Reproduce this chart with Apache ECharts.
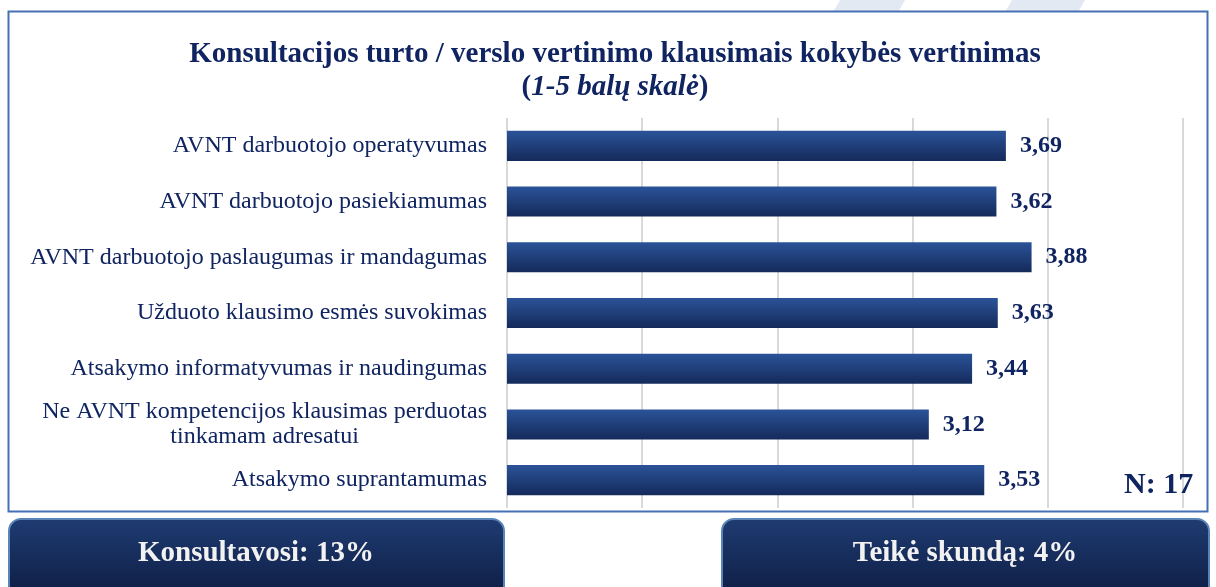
<!DOCTYPE html>
<html>
<head>
<meta charset="utf-8">
<script src="https://cdn.jsdelivr.net/npm/echarts@6/dist/echarts.min.js"></script>
<style>
  html, body { margin: 0; padding: 0; background: #fff; }
  #chart { width: 1216px; height: 587px; }
</style>
</head>
<body>
<div id="chart"></div>
<script>
// data
const categories = [
  'AVNT darbuotojo operatyvumas',
  'AVNT darbuotojo pasiekiamumas',
  'AVNT darbuotojo paslaugumas ir mandagumas',
  'Užduoto klausimo esmės suvokimas',
  'Atsakymo informatyvumas ir naudingumas',
  'Ne AVNT kompetencijos klausimas perduotas\ntinkamam adresatui',
  'Atsakymo suprantamumas'
]
const scores = [3.69, 3.62, 3.88, 3.63, 3.44, 3.12, 3.53]
const axisTicks = [0, 1, 2, 3, 4, 5]
const sampleText = 'N: 17'
const statLabels = ['Konsultavosi: 13%', 'Teikė skundą: 4%']

const navy = '#0f2460'
const serif = '"Liberation Serif", "Times New Roman", serif'

const myChart = echarts.init(document.getElementById('chart'))

const buttonFill = new echarts.graphic.LinearGradient(0, 0, 0, 1, [
  { offset: 0, color: '#1f3c72' },
  { offset: 1, color: '#0d1c42' }
])

const option = {
  backgroundColor: '#fff',
  textStyle: { fontFamily: serif },
  title: {
    text: 'Konsultacijos turto / verslo vertinimo klausimais kokybės vertinimas\n{b|(}{i|1-5 balų skalė}{b|)}',
    left: 610,
    textAlign: 'center',
    top: 33,
    textStyle: {
      fontFamily: serif,
      fontSize: 29,
      fontWeight: 'bold',
      color: navy,
      lineHeight: 33,
      rich: {
        b: { fontFamily: serif, fontSize: 29, fontWeight: 'bold', color: navy, lineHeight: 33 },
        i: { fontFamily: serif, fontSize: 29, fontWeight: 'bold', fontStyle: 'italic', color: navy, lineHeight: 33 }
      }
    }
  },
  grid: {
    left: 507,
    right: 33,
    top: 118,
    bottom: 79,
    containLabel: false
  },
  xAxis: {
    type: 'value',
    min: axisTicks[0],
    max: axisTicks[axisTicks.length - 1],
    interval: 1,
    axisLine: { show: false },
    axisTick: { show: false },
    axisLabel: { show: false },
    splitLine: { show: true, lineStyle: { color: '#d9d9d9', width: 2 } }
  },
  yAxis: {
    type: 'category',
    inverse: true,
    data: categories,
    axisLine: { show: false },
    axisTick: { show: false },
    axisLabel: {
      margin: 20,
      fontFamily: serif,
      fontSize: 24,
      color: navy,
      lineHeight: 25,
      formatter: function (value) {
        if (value.indexOf('\n') >= 0) {
          return value.split('\n').map(line => '{c|' + line + '}').join('\n')
        }
        return value
      },
      rich: {
        c: { fontFamily: serif, fontSize: 24, color: navy, lineHeight: 25, align: 'center' }
      }
    }
  },
  series: [
    {
      name: 'Vertinimas',
      type: 'bar',
      data: scores,
      barCategoryGap: '46%',
      itemStyle: {
        color: new echarts.graphic.LinearGradient(0, 0, 0, 1, [
          { offset: 0, color: '#2b5399' },
          { offset: 1, color: '#142a5a' }
        ])
      },
      label: {
        show: true,
        position: 'right',
        distance: 14,
        fontFamily: serif,
        fontSize: 24,
        fontWeight: 'bold',
        color: navy,
        formatter: p => p.value.toFixed(2).replace('.', ',')
      },
      silent: true
    }
  ],
  graphic: [
    // faint decorative stripes behind the frame
    {
      type: 'polygon', z: -10, silent: true,
      shape: { points: [[840, 0], [905, 0], [897, 14], [832, 14]] },
      style: { fill: '#e3e9f2' }
    },
    {
      type: 'polygon', z: -10, silent: true,
      shape: { points: [[1012, 0], [1085, 0], [1077, 14], [1004, 14]] },
      style: { fill: '#e3e9f2' }
    },
    // chart frame
    {
      type: 'rect', z: -5, silent: true,
      shape: { x: 8.5, y: 11.5, width: 1199, height: 500 },
      style: { fill: '#fff', stroke: '#4670b3', lineWidth: 2 }
    },
    {
      type: 'text', z: 10,
      left: 1124, top: 470,
      style: { text: sampleText, font: 'bold 30px ' + serif, fill: navy }
    },
    // bottom stat boxes
    {
      type: 'group', left: 8, top: 518,
      children: [
        {
          type: 'rect',
          shape: { x: 0, y: 0, width: 495, height: 80, r: 12 },
          style: { fill: buttonFill, stroke: '#5a84b8', lineWidth: 2 }
        },
        {
          type: 'text',
          x: 247, y: 35,
          style: { text: statLabels[0], font: 'bold 29px ' + serif, fill: '#f2f2f2', align: 'center', verticalAlign: 'middle' }
        }
      ]
    },
    {
      type: 'group', left: 721, top: 518,
      children: [
        {
          type: 'rect',
          shape: { x: 0, y: 0, width: 487, height: 80, r: 12 },
          style: { fill: buttonFill, stroke: '#5a84b8', lineWidth: 2 }
        },
        {
          type: 'text',
          x: 243, y: 35,
          style: { text: statLabels[1], font: 'bold 29px ' + serif, fill: '#f2f2f2', align: 'center', verticalAlign: 'middle' }
        }
      ]
    }
  ]
}

myChart.setOption(option)
</script>
</body>
</html>
